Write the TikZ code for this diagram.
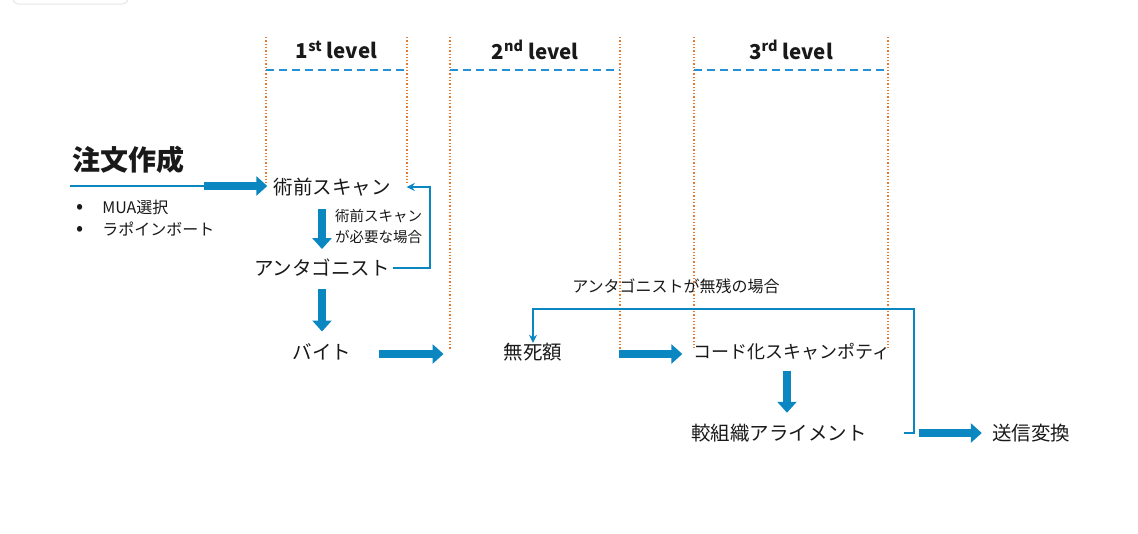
\documentclass[tikz,border=0pt]{standalone}
\usepackage{fontspec}
\setmainfont{Noto Sans CJK JP}
\usepackage{xcolor}
\usepackage{tikz}
\usetikzlibrary{arrows.meta,positioning,calc}
\definecolor{flowblue}{RGB}{10,134,192}
\definecolor{barblue}{RGB}{35,145,212}
\definecolor{leveline}{RGB}{228,122,48}
\tikzset{
  stage/.style={inner sep=3pt, font=\fontsize{19.5}{23}\selectfont, text=black!90},
  title/.style={inner sep=2pt, font=\fontsize{28}{32}\selectfont\bfseries, text=black!90},
  levelname/.style={inner sep=2pt, font=\fontsize{20.5}{24}\selectfont\bfseries, text=black!90},
  note/.style={inner sep=2pt, align=left, font=\fontsize{14.5}{21}\selectfont, text=black!90},
  bullet/.style={inner sep=0pt, anchor=west, font=\fontsize{16}{20}\selectfont, text=black!90},
  bigarrow/.style={-{Triangle[length=11pt,width=19pt]}, line width=8pt, flowblue},
  backarrow/.style={-{Stealth[length=8pt,width=8pt]}, line width=1.8pt, flowblue},
  thinline/.style={line width=1.8pt, flowblue},
  levelwall/.style={dotted, line width=1.3pt, leveline},
  levelbar/.style={line width=2.4pt, barblue, dash pattern=on 8pt off 5pt},
}
\newcommand{\dotmark}{{\fontsize{21}{20}\selectfont •}\hspace{19pt}}
\begin{document}
\begin{tikzpicture}[x=1pt,y=-1pt]
  \useasboundingbox (0,0) rectangle (1138,533);
  \draw[black!10, line width=1pt, rounded corners=5pt] (13,-10) rectangle (128,4);
  % levels
  \foreach \l/\r/\b/\n/\name in {266/407/183/1\textsuperscript{st}/one,450/620/350/2\textsuperscript{nd}/two,694/888/348/3\textsuperscript{rd}/three} {
    \draw[levelwall] (\l,37) -- (\l,\b);
    \draw[levelwall] (\r,37) -- (\r,\b);
    \draw[levelbar] (\l,70) -- (\r,70);
    \node[levelname] (lv\name) at ({(\l+\r)/2},50) {\n\ level};
  }
  % order entry
  \node[title] (order) at (128,160) {注文作成};
  \node[bullet] (mua) at (76,207) {\dotmark MUA選択};
  \node[bullet] (rapo) at (76,229) {\dotmark ラポインボート};
  \coordinate (lineStart) at (70,186);
  \coordinate (lineEnd) at (204,186);
  % stages
  \node[stage] (scan) at (332,187) {術前スキャン};
  \node[note, anchor=west] (need) at (333,226) {術前スキャン\\が必要な場合};
  \node[stage] (antag) at (322,268) {アンタゴニスト};
  \node[stage] (bite) at (322,352) {バイト};
  \node[stage] (musi) at (533,352) {無死額};
  \node[stage, font=\fontsize{18}{23}\selectfont] (code) at (792,352) {コード化スキャンポティ};
  \node[stage] (align) at (779,433) {較組織アライメント};
  \node[stage] (send) at (1031,433) {送信変換};
  \node[note, font=\fontsize{16}{21}\selectfont] (noremain) at (676,286) {アンタゴニストが無残の場合};
  % flow
  \draw[thinline] (lineStart) -- (lineEnd);
  \draw[bigarrow] (lineEnd) -- ([xshift=-3pt]lineEnd -| scan.west);
  \draw[bigarrow, shorten <=10pt, shorten >=7pt] (antag.north |- scan.south) -- (antag.north);
  \draw[backarrow] (antag.east) -- ++(37,0) |- ([xshift=13pt]scan.east);
  \draw[bigarrow, shorten <=9pt, shorten >=9pt] (antag.south) -- (bite.north);
  \draw[bigarrow, shorten <=25pt, shorten >=57pt] ([yshift=-2pt]bite.east) -- ([yshift=-2pt]musi.west);
  \draw[bigarrow, shorten <=54pt, shorten >=8pt] ([yshift=-2pt]musi.east) -- ([yshift=-2pt]code.west);
  \draw[bigarrow, shorten <=7pt, shorten >=8pt] ([xshift=-5pt]code.south) -- ([xshift=8pt]align.north);
  \draw[backarrow, shorten <=34pt] (align.east) -| (914,309) -| ([yshift=-3pt]musi.north);
  \draw[bigarrow, shorten <=49pt, shorten >=7pt] (align.east) -- (send.west);
\end{tikzpicture}
\end{document}
